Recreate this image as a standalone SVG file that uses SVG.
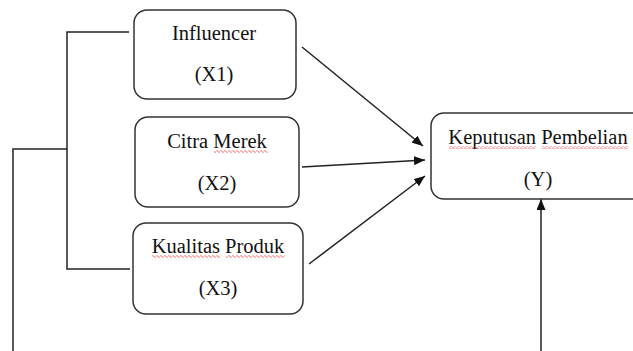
<svg xmlns="http://www.w3.org/2000/svg" width="633" height="351" viewBox="0 0 633 351">
<style>
.box{fill:#fff;stroke:#333;stroke-width:1.5}
.t{font-family:"Liberation Serif","Times New Roman",serif;font-size:20.5px;fill:#111;text-anchor:middle}
.ln{fill:none;stroke:#222;stroke-width:1.5}
</style>
<defs>
<marker id="ah" viewBox="0 0 11 9" refX="11" refY="4.5" markerWidth="11" markerHeight="9" markerUnits="userSpaceOnUse" orient="auto">
<path d="M0,0 L11,4.5 L0,9 z" fill="#111"/>
</marker>
<pattern id="wave" width="4" height="3" patternUnits="userSpaceOnUse">
<path d="M0,1.5 L1,0.5 L3,2.5 L4,1.5" fill="none" stroke="#e03030" stroke-width="0.8"/>
</pattern>
</defs>
<g id="connectors">
<path class="ln" d="M129,32 H67 V269 H130"/>
<path class="ln" d="M67,149 H13 V351"/>
<line class="ln" x1="302" y1="47" x2="423" y2="146" marker-end="url(#ah)"/>
<line class="ln" x1="302" y1="167" x2="425" y2="160" marker-end="url(#ah)"/>
<line class="ln" x1="309" y1="264" x2="425" y2="176" marker-end="url(#ah)"/>
<line class="ln" x1="541" y1="351" x2="541" y2="199" stroke-width="2" marker-end="url(#ah)"/>
</g>
<g id="x1">
<rect class="box" x="134" y="10" width="162" height="89" rx="13"/>
<text class="t" x="214" y="40">Influencer</text>
<text class="t" x="214" y="81">(X1)</text>
</g>
<g id="x2">
<rect class="box" x="135" y="117" width="164" height="90" rx="13"/>
<text class="t" x="217" y="148">Citra Merek</text>
<text class="t" x="217" y="190">(X2)</text>
<rect x="214" y="150" width="54" height="3" fill="url(#wave)"/>
</g>
<g id="x3">
<rect class="box" x="133" y="223" width="170" height="91" rx="13"/>
<text class="t" x="218" y="253">Kualitas Produk</text>
<text class="t" x="218" y="295">(X3)</text>
<rect x="152" y="255" width="68" height="3" fill="url(#wave)"/>
<rect x="226" y="255" width="59" height="3" fill="url(#wave)"/>
</g>
<g id="y">
<rect class="box" x="431" y="113" width="215" height="86" rx="13"/>
<text class="t" x="538" y="144">Keputusan Pembelian</text>
<text class="t" x="538" y="186">(Y)</text>
<rect x="449" y="146" width="87" height="3" fill="url(#wave)"/>
<rect x="542" y="146" width="86" height="3" fill="url(#wave)"/>
</g>
</svg>
